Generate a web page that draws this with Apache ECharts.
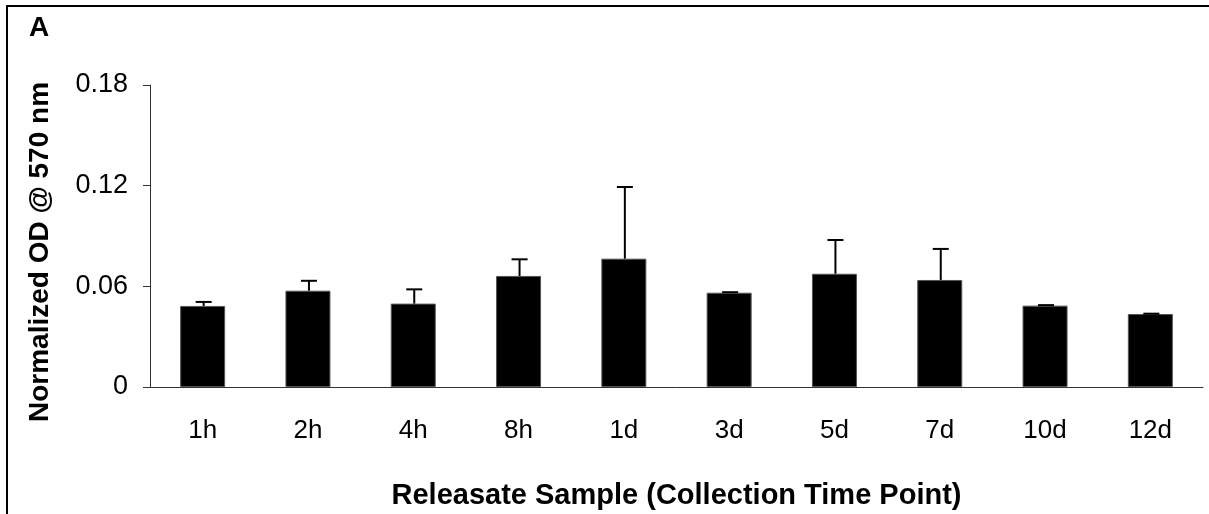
<!DOCTYPE html>
<html>
<head>
<meta charset="utf-8">
<script src="https://cdn.jsdelivr.net/npm/echarts@6/dist/echarts.min.js"></script>
<style>
  html, body { margin: 0; padding: 0; background: #fff; }
  #main { width: 1209px; height: 514px; }
</style>
</head>
<body>
<div id="main"></div>
<script>
var categories = ['1h', '2h', '4h', '8h', '1d', '3d', '5d', '7d', '10d', '12d'];
var means = [0.0483, 0.0574, 0.0497, 0.0662, 0.0765, 0.0562, 0.0675, 0.0638, 0.0485, 0.0435];
var errors = [0.0024, 0.0059, 0.0085, 0.0099, 0.0427, 0.0003, 0.0201, 0.0185, 0.0003, 0.0002];
var yTicks = [0, 0.06, 0.12, 0.18];

var chart = echarts.init(document.getElementById('main'));

var errData = categories.map(function (c, i) {
  return [i, means[i], means[i] + errors[i]];
});

var font = 'Liberation Sans, Arial, sans-serif';

var option = {
  animation: false,
  grid: { left: 150, right: 6, top: 85, bottom: 127, containLabel: false, outerBoundsMode: 'none' },
  graphic: [
    {
      type: 'polyline',
      shape: { points: [[7, 514], [7, 6], [1209, 6]] },
      style: { stroke: '#000', lineWidth: 2, fill: null }
    },
    {
      type: 'text',
      left: 29, top: 14,
      style: { text: 'A', font: 'bold 28px ' + font, fill: '#000' }
    }
  ],
  xAxis: {
    type: 'category',
    data: categories,
    name: 'Releasate Sample (Collection Time Point)',
    nameLocation: 'middle',
    nameGap: 94,
    nameTextStyle: { fontSize: 29, fontWeight: 'bold', color: '#000', fontFamily: font },
    axisLine: { lineStyle: { color: '#333', width: 1 } },
    axisTick: { length: 7, lineStyle: { color: '#333' } },
    axisLabel: { fontSize: 26, color: '#000', fontFamily: font, margin: 31 }
  },
  yAxis: {
    type: 'value',
    min: 0, max: 0.18, interval: 0.06,
    name: 'Normalized OD @ 570 nm',
    nameLocation: 'middle',
    nameGap: 96,
    nameTextStyle: { fontSize: 28, fontWeight: 'bold', color: '#000', fontFamily: font, padding: [0, 32, 0, 0] },
    axisLine: { show: true, lineStyle: { color: '#333', width: 1 } },
    axisTick: { show: true, length: 7, lineStyle: { color: '#333' } },
    splitLine: { show: false },
    axisLabel: {
      fontSize: 27, color: '#000', fontFamily: font, margin: 22,
      formatter: function (v) {
        var t = yTicks.find(function (x) { return Math.abs(x - v) < 1e-9; });
        return t === 0 ? '0' : String(t);
      }
    }
  },
  series: [
    {
      type: 'bar',
      data: means,
      barWidth: 45,
      itemStyle: { color: '#000', borderColor: '#555', borderWidth: 1 }
    },
    {
      type: 'custom',
      data: errData,
      z: 3,
      renderItem: function (params, api) {
        var low = api.coord([api.value(0), api.value(1)]);
        var high = api.coord([api.value(0), api.value(2)]);
        var x = low[0] + 1;
        var cap = 8;
        return {
          type: 'group',
          children: [
            { type: 'line', shape: { x1: x, y1: low[1], x2: x, y2: high[1] }, style: { stroke: '#000', lineWidth: 2 } },
            { type: 'line', shape: { x1: x - cap, y1: high[1], x2: x + cap, y2: high[1] }, style: { stroke: '#000', lineWidth: 2 } }
          ]
        };
      }
    }
  ]
};

chart.setOption(option);
</script>
</body>
</html>
